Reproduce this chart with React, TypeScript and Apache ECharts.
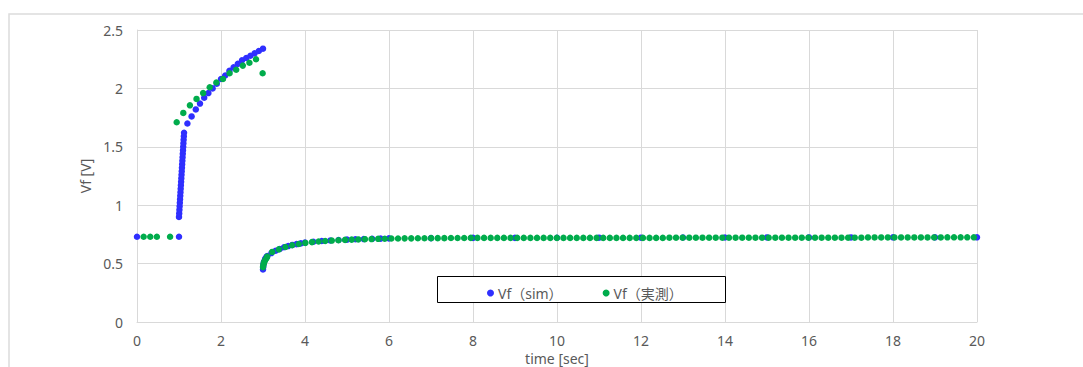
import React, { useEffect, useRef } from "react";
import * as echarts from "echarts";

// Axis ticks
const X_MIN = 0, X_MAX = 20, X_STEP = 2;
const Y_MIN = 0, Y_MAX = 2.5, Y_STEP = 0.5;
const X_TITLE = "time [sec]";
const Y_TITLE = "Vf [V]";
const SERIES_NAMES = ["Vf（sim）", "Vf（実測）"];

// Simulation: [time, Vf]
const simPoints: [number, number][] = [
  [0, 0.73], [1.0, 0.73],
  [1.0, 0.9], [1.005, 0.93], [1.01, 0.96], [1.015, 0.99], [1.02, 1.02], [1.025, 1.05],
  [1.03, 1.08], [1.035, 1.11], [1.04, 1.14], [1.045, 1.17], [1.05, 1.2], [1.055, 1.23],
  [1.06, 1.26], [1.065, 1.29], [1.07, 1.32], [1.075, 1.35], [1.08, 1.38], [1.085, 1.41],
  [1.09, 1.44], [1.095, 1.47], [1.1, 1.5], [1.105, 1.53], [1.11, 1.56], [1.115, 1.59], [1.12, 1.62],
  [1.2, 1.7], [1.3, 1.76], [1.4, 1.82], [1.5, 1.87], [1.6, 1.92], [1.7, 1.96], [1.8, 2.0],
  [1.9, 2.04], [2.0, 2.08], [2.1, 2.11], [2.2, 2.15], [2.3, 2.18], [2.4, 2.21], [2.5, 2.24],
  [2.6, 2.26], [2.7, 2.28], [2.8, 2.3], [2.9, 2.32], [3.0, 2.34],
  [3.0, 0.45], [3.005, 0.47], [3.01, 0.49], [3.02, 0.51], [3.03, 0.52], [3.05, 0.54],
  [3.08, 0.555], [3.1, 0.565], [3.2, 0.59], [3.3, 0.61], [3.4, 0.625], [3.5, 0.64],
  [3.6, 0.65], [3.7, 0.66], [3.8, 0.667], [3.9, 0.673], [4.0, 0.68], [4.2, 0.687],
  [4.4, 0.693], [4.6, 0.698], [4.8, 0.702], [5.0, 0.705], [5.2, 0.708], [5.4, 0.71],
  [5.6, 0.712], [5.8, 0.714], [6.0, 0.716], [7, 0.718], [8, 0.72], [9, 0.72], [10, 0.721],
  [11, 0.722], [12, 0.722], [13, 0.723], [14, 0.723], [15, 0.724], [16, 0.724], [17, 0.724],
  [18, 0.725], [19, 0.725], [20, 0.725],
];

// Measurement, segment A: sampled from MEAS_A_T0 every MEAS_A_DT (null = no sample)
const MEAS_A_T0 = 0.158;
const MEAS_A_DT = 0.1574;
const measA: (number | null)[] = [
  0.73, 0.73, 0.73, null, 0.73, 1.71, 1.79, 1.855, 1.91, 1.96,
  2.01, 2.05, 2.08, 2.13, 2.16, 2.195, 2.22, 2.25, 2.13,
];
// Measurement, burst during the recovery after t = 3 s: [time, Vf]
const measBurst: [number, number][] = [
  [3.0, 0.47], [3.01, 0.49], [3.02, 0.505], [3.03, 0.515], [3.05, 0.53], [3.08, 0.545], [3.1, 0.56],
];
// Measurement, segment C: sampled from MEAS_C_T0 every MEAS_C_DT
const MEAS_C_T0 = 3.22;
const MEAS_C_DT = 0.1576;
const measC: number[] = [
  0.6, 0.622, 0.642, 0.657, 0.668, 0.677, 0.684, 0.689, 0.693, 0.697,
  0.7, 0.703, 0.705, 0.707, 0.709, 0.71, 0.712, 0.713, 0.715, 0.715,
  0.716, 0.716, 0.717, 0.717, 0.718, 0.718, 0.718, 0.719, 0.719, 0.719,
  0.72, 0.72, 0.72, 0.72, 0.72, 0.72, 0.72, 0.72, 0.72, 0.72,
  0.72, 0.72, 0.72, 0.72, 0.72, 0.72, 0.72, 0.72, 0.72, 0.72,
  0.72, 0.72, 0.72, 0.72, 0.72, 0.72, 0.72, 0.72, 0.72, 0.72,
  0.722, 0.722, 0.722, 0.722, 0.722, 0.722, 0.722, 0.722, 0.722, 0.722,
  0.722, 0.722, 0.722, 0.722, 0.722, 0.722, 0.722, 0.722, 0.722, 0.722,
  0.722, 0.722, 0.722, 0.722, 0.722, 0.722, 0.722, 0.722, 0.722, 0.722,
  0.724, 0.724, 0.724, 0.724, 0.724, 0.724, 0.724, 0.724, 0.724, 0.724,
  0.724, 0.724, 0.725, 0.725, 0.725, 0.725, 0.725,
];

const FONT = "'Noto Sans', 'Noto Sans CJK JP', sans-serif";
const TEXT_COLOR = "#595959";

export default function App() {
  const ref = useRef<HTMLDivElement>(null);
  useEffect(() => {
    if (!ref.current) return;
    const chart = echarts.init(ref.current, undefined, { renderer: "svg" });

    const measPoints: [number, number][] = [];
    measA.forEach((v, i) => {
      if (v !== null) measPoints.push([MEAS_A_T0 + i * MEAS_A_DT, v]);
    });
    measBurst.forEach((p) => measPoints.push(p));
    measC.forEach((v, i) => measPoints.push([MEAS_C_T0 + i * MEAS_C_DT, v]));

    chart.setOption({
      animation: false,
      backgroundColor: "#ffffff",
      textStyle: { fontFamily: FONT },
      grid: {
        left: 137,
        top: 30,
        right: 106,
        bottom: 45,
        containLabel: false,
        outerBoundsMode: "none",
      },
      graphic: [
        {
          type: "rect",
          z: 0,
          silent: true,
          shape: { x: 9, y: 14, width: 1200, height: 500 },
          style: { fill: "none", stroke: "#dcdcdc", lineWidth: 1.5 },
        },
        {
          type: "rect",
          z: 3,
          silent: true,
          shape: { x: 437.5, y: 276.5, width: 288, height: 26 },
          style: { fill: "#ffffff", stroke: "#000000", lineWidth: 1 },
        },
      ],
      legend: {
        z: 5,
        left: 482,
        top: 281,
        itemGap: 40,
        itemWidth: 7,
        itemHeight: 7,
        icon: "circle",
        textStyle: { fontSize: 14, color: TEXT_COLOR, fontFamily: FONT, padding: [0, 0, 0, -1] },
        data: SERIES_NAMES,
      },
      xAxis: {
        type: "value",
        min: X_MIN,
        max: X_MAX,
        interval: X_STEP,
        name: X_TITLE,
        nameLocation: "middle",
        nameGap: 28,
        nameTextStyle: { fontSize: 14, color: TEXT_COLOR },
        axisLine: { show: true, lineStyle: { color: "#d9d9d9", width: 1 } },
        axisTick: { show: false },
        axisLabel: { color: TEXT_COLOR, fontSize: 14, margin: 11 },
        splitLine: { show: true, lineStyle: { color: "#d9d9d9", width: 1 } },
      },
      yAxis: {
        type: "value",
        min: Y_MIN,
        max: Y_MAX,
        interval: Y_STEP,
        name: Y_TITLE,
        nameLocation: "middle",
        nameGap: 42,
        nameRotate: 90,
        nameTextStyle: { fontSize: 14, color: TEXT_COLOR },
        axisLine: { show: true, lineStyle: { color: "#d9d9d9", width: 1 } },
        axisTick: { show: false },
        axisLabel: { color: TEXT_COLOR, fontSize: 14, margin: 14 },
        splitLine: { show: true, lineStyle: { color: "#d9d9d9", width: 1 } },
      },
      series: [
        {
          name: SERIES_NAMES[0],
          type: "scatter",
          symbol: "circle",
          symbolSize: 6.5,
          itemStyle: { color: "#2f2fff", opacity: 1 },
          data: simPoints,
          z: 2,
        },
        {
          name: SERIES_NAMES[1],
          type: "scatter",
          symbol: "circle",
          symbolSize: 6.5,
          itemStyle: { color: "#00ac4c", opacity: 1 },
          data: measPoints,
          z: 2,
        },
      ],
    });
    return () => chart.dispose();
  }, []);
  return (
    <div
      ref={ref}
      style={{ position: "fixed", left: 0, top: 0, width: 1083, height: 367 }}
    />
  );
}
